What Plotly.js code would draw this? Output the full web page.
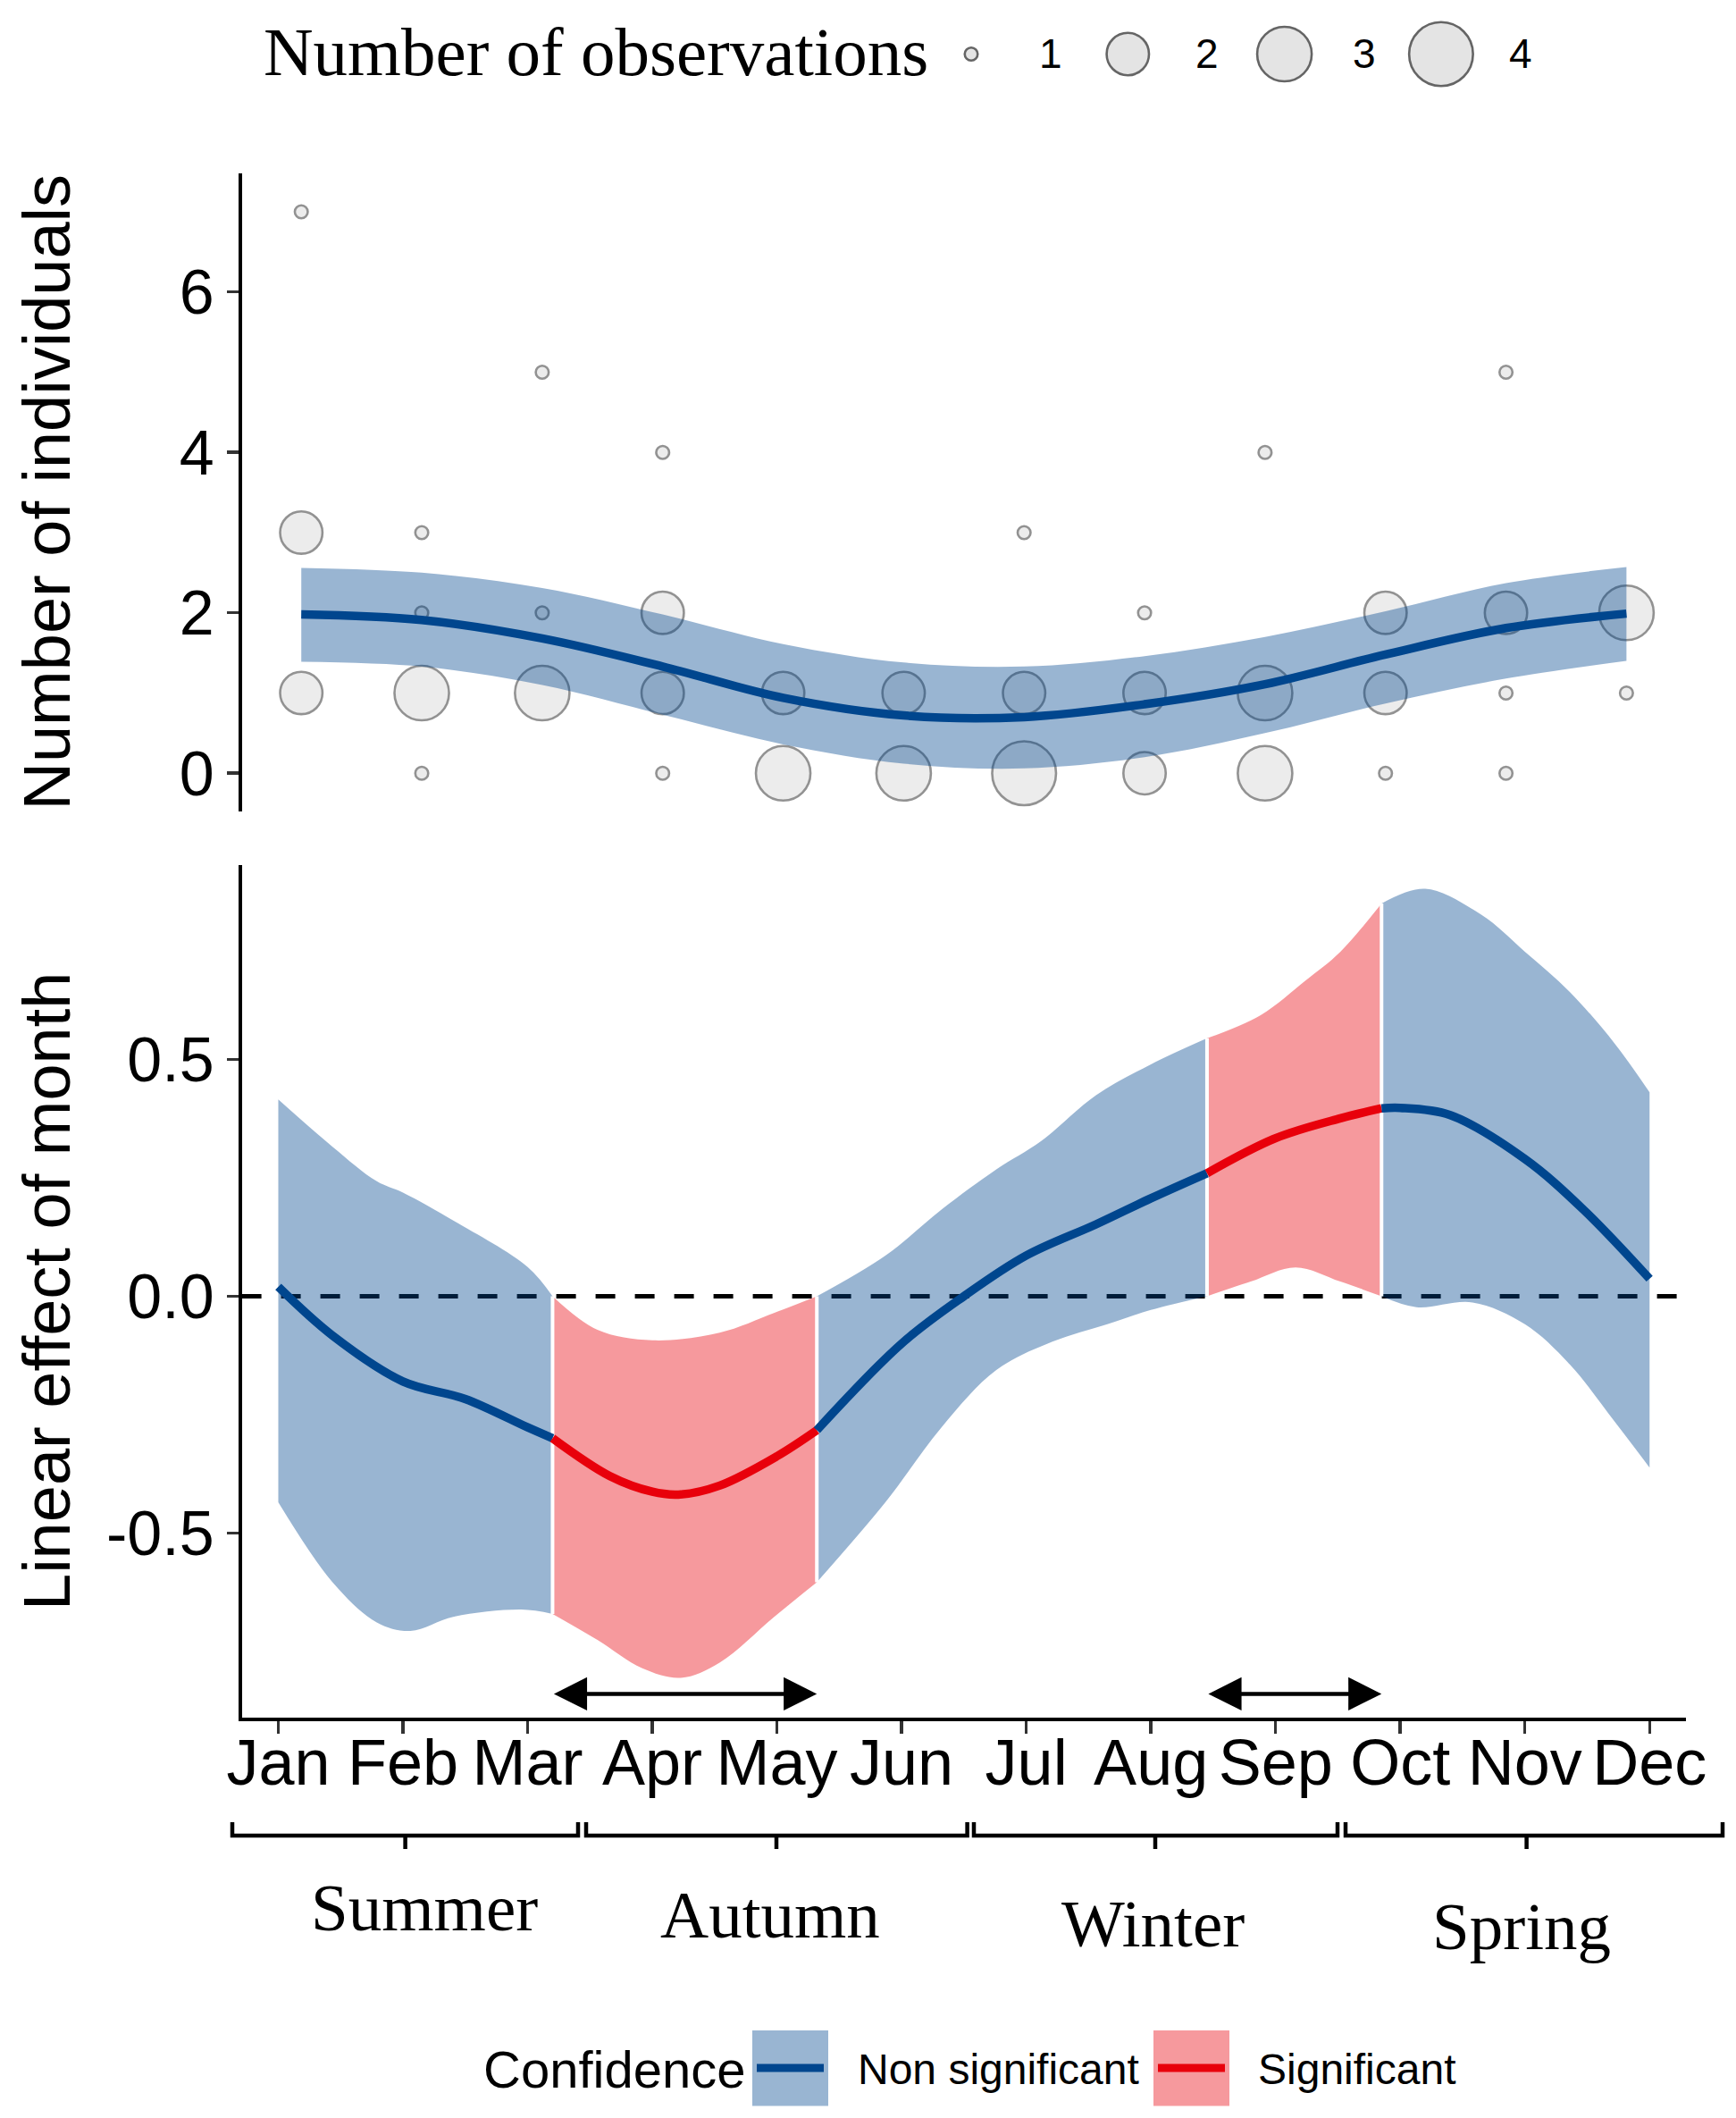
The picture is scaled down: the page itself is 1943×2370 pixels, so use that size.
<!DOCTYPE html>
<html><head><meta charset="utf-8">
<script src="https://cdn.plot.ly/plotly-3.0.1.min.js"></script>
<style>html,body{margin:0;padding:0;background:#fff}#chart{width:1943px;height:2370px}</style>
</head><body><div id="chart"></div>
<script>
// ---------------- DATA ----------------
const months = ['Jan','Feb','Mar','Apr','May','Jun','Jul','Aug','Sep','Oct','Nov','Dec'];
const monthNum = [1,2,3,4,5,6,7,8,9,10,11,12];

// Top panel: observed counts (month, number of individuals, number of observations)
const obsMonth = [1,1,1, 2,2,2,2, 3,3,3, 4,4,4,4, 5,5, 6,6, 7,7,7, 8,8,8, 9,9,9, 10,10,10, 11,11,11,11, 12,12];
const obsCount = [7,3,1, 3,2,1,0, 5,2,1, 4,2,1,0, 1,0, 1,0, 3,1,0, 2,1,0, 4,1,0, 2,1,0, 5,2,1,0, 2,1];
const obsN     = [1,2,2, 1,1,3,1, 1,1,3, 1,2,2,1, 2,3, 2,3, 1,2,4, 1,2,2, 1,3,3, 2,2,1, 1,2,1,1, 3,1];

// Top panel: fitted smooth and confidence band (per month)
const fitTop   = [1.98,1.91,1.68,1.33,0.94,0.72,0.70,0.86,1.11,1.48,1.81,1.99];
const upperTop = [2.56,2.50,2.31,1.98,1.61,1.38,1.33,1.46,1.70,2.02,2.37,2.57];
const lowerTop = [1.39,1.33,1.10,0.73,0.36,0.12,0.06,0.20,0.50,0.87,1.18,1.40];

// Bottom panel: linear effect of month
const effX = [1,1.435,2,2.5,3,3.2,3.66,4,4.21,4.54,5,5.32,6,6.5,7,7.56,8,8.45,9,9.52,9.85,10,10.4,11,11.47,12];
const effY = [0.02,-0.083,-0.18,-0.217,-0.277,-0.30,-0.38,-0.413,-0.419,-0.40,-0.338,-0.283,-0.10,0.0,0.086,0.152,0.207,0.26,0.334,0.376,0.397,0.398,0.383,0.29,0.183,0.037];
const upX = [1,1.435,1.79,2.0,2.41,3.0,3.2,3.56,4.0,4.54,4.98,5.32,5.87,6.32,6.76,7.12,7.56,8.0,8.45,8.88,9.24,9.52,9.85,10.2,10.65,11.0,11.36,11.72,12];
const upY = [0.416,0.316,0.243,0.219,0.159,0.062,0.0,-0.071,-0.093,-0.077,-0.035,0.0,0.086,0.183,0.268,0.328,0.425,0.49,0.545,0.594,0.667,0.728,0.83,0.861,0.806,0.728,0.643,0.534,0.431];
const loX = [1,1.435,1.79,2.06,2.41,2.95,3.2,3.56,3.92,4.23,4.54,4.98,5.32,5.87,6.32,6.76,7.21,7.65,8.0,8.45,8.8,9.16,9.52,9.85,10.13,10.58,11.0,11.36,11.72,12];
const loY = [-0.435,-0.604,-0.689,-0.707,-0.677,-0.662,-0.671,-0.726,-0.786,-0.806,-0.774,-0.677,-0.604,-0.435,-0.277,-0.156,-0.096,-0.059,-0.029,0.0,0.031,0.061,0.031,0.0,-0.023,-0.013,-0.059,-0.144,-0.265,-0.362];

// Significant intervals (month units)
const sigIntervals = [[3.2,5.32],[8.45,9.85]];

const seasons = ['Summer','Autumn','Winter','Spring'];
const obsLegendLevels = [1,2,3,4];
const topTicks = [0,2,4,6];
const bottomTicks = [-0.5,0,0.5];

// ---------------- STYLE / HELPERS ----------------
const W = 1943, H = 2370;
const BLUE = '#00468E', BLUE_FILL = 'rgba(0,70,142,0.4)';
const RED = '#E8000B', RED_FILL = 'rgba(232,0,11,0.4)';
const SANS = 'Liberation Sans, Arial, sans-serif';
const SERIF = 'Liberation Serif, Times New Roman, serif';
const nMin = Math.min(...obsN), nMax = Math.max(...obsN);
function sizeFor(n){ return 14.5 + 57*Math.sqrt((n-nMin)/(nMax-nMin)); }
function pick(xs, ys, a, b){
  const px=[], py=[];
  xs.forEach((x,i)=>{ if(x>=a-1e-9 && x<=b+1e-9){ px.push(x); py.push(ys[i]); } });
  return {x:px, y:py};
}
function valAt(xs, ys, b){ return ys[xs.findIndex(x=>Math.abs(x-b)<1e-9)]; }
const px2x = p => p/W, py2y = p => 1 - p/H;

const traces = [];
// top points
traces.push({type:'scatter', mode:'markers', x:obsMonth, y:obsCount, xaxis:'x', yaxis:'y',
  marker:{size:obsN.map(sizeFor), color:'#E4E4E4', line:{color:'#656565', width:2.6}}, hoverinfo:'skip'});
// top band
traces.push({type:'scatter', mode:'lines', x:monthNum, y:lowerTop, xaxis:'x', yaxis:'y',
  line:{width:0, shape:'spline'}, hoverinfo:'skip'});
traces.push({type:'scatter', mode:'lines', x:monthNum, y:upperTop, xaxis:'x', yaxis:'y',
  line:{width:0, shape:'spline'}, fill:'tonexty', fillcolor:BLUE_FILL, hoverinfo:'skip'});
traces.push({type:'scatter', mode:'lines', x:monthNum, y:fitTop, xaxis:'x', yaxis:'y',
  line:{width:9.5, color:BLUE, shape:'spline'}, hoverinfo:'skip'});

// bottom segments
const edges = [effX[0], ...sigIntervals.flat(), effX[effX.length-1]];
const segs = [];
for(let k=0;k<edges.length-1;k++) segs.push({a:edges[k], b:edges[k+1], sig:(k%2===1)});
segs.forEach(s=>{
  const lo = pick(loX, loY, s.a, s.b), up = pick(upX, upY, s.a, s.b);
  traces.push({type:'scatter', mode:'lines', x:lo.x, y:lo.y, xaxis:'x2', yaxis:'y2',
    line:{width:0, shape:'spline'}, hoverinfo:'skip'});
  traces.push({type:'scatter', mode:'lines', x:up.x, y:up.y, xaxis:'x2', yaxis:'y2',
    line:{width:0, shape:'spline'}, fill:'tonexty', fillcolor: s.sig?RED_FILL:BLUE_FILL, hoverinfo:'skip'});
});
// white separators at interval boundaries
sigIntervals.flat().forEach(b=>{
  traces.push({type:'scatter', mode:'lines', x:[b,b], y:[valAt(loX,loY,b), valAt(upX,upY,b)],
    xaxis:'x2', yaxis:'y2', line:{width:4, color:'white'}, hoverinfo:'skip'});
});
// effect line segments
segs.forEach(s=>{
  const e = pick(effX, effY, s.a, s.b);
  traces.push({type:'scatter', mode:'lines', x:e.x, y:e.y, xaxis:'x2', yaxis:'y2',
    line:{width:9.5, color: s.sig?RED:BLUE, shape:'spline'}, hoverinfo:'skip'});
});

// ---------------- LAYOUT ----------------
const L = 270.6/W, R = 1887/W;
const axisCommon = {showgrid:false, zeroline:false, linecolor:'black', linewidth:4,
  tickcolor:'#333333', tickwidth:3.5, tickfont:{family:SANS, size:70, color:'black'}};

const shapes = [];
const annotations = [];

// dashed zero line (under ribbons)
shapes.push({type:'line', xref:'x2 domain', yref:'y2', x0:0, x1:1, y0:0, y1:0, layer:'below',
  line:{color:'black', width:5, dash:'22px,22px'}});

// significant interval arrows
sigIntervals.forEach(([a,b])=>{
  annotations.push({xref:'x2', yref:'y2', axref:'x2', ayref:'y2', x:b, y:-0.84, ax:a, ay:-0.84,
    text:'', showarrow:true, arrowside:'end+start', arrowhead:2, startarrowhead:2,
    arrowsize:1.65, startarrowsize:1.65, arrowwidth:4.5, arrowcolor:'black', standoff:0, startstandoff:0});
});

// y-axis titles
annotations.push({xref:'paper', yref:'paper', x:px2x(52), y:py2y(550.5), xanchor:'center', yanchor:'middle',
  text:'Number of individuals', textangle:-90, showarrow:false, font:{family:SANS, size:74, color:'black'}});
annotations.push({xref:'paper', yref:'paper', x:px2x(52), y:py2y(1445), xanchor:'center', yanchor:'middle',
  text:'Linear effect of month', textangle:-90, showarrow:false, font:{family:SANS, size:74, color:'black'}});

// top size legend
annotations.push({xref:'paper', yref:'paper', x:px2x(292.5), y:py2y(58), xanchor:'left', yanchor:'middle',
  text:'Number of observations', showarrow:false, font:{family:SERIF, size:77, color:'black'}});
obsLegendLevels.forEach((n,i)=>{
  const cx = 1087 + i*175.3, cy = 60.5, d = sizeFor(n);
  shapes.push({type:'circle', xref:'paper', yref:'paper', xsizemode:'pixel', ysizemode:'pixel',
    xanchor:px2x(cx), yanchor:py2y(cy), x0:-d/2, x1:d/2, y0:-d/2, y1:d/2,
    fillcolor:'#E4E4E4', line:{color:'#656565', width:2.6}});
  annotations.push({xref:'paper', yref:'paper', x:px2x(cx+89), y:py2y(cy), xanchor:'center', yanchor:'middle',
    text:String(n), showarrow:false, font:{family:SANS, size:46, color:'black'}});
});

// season brackets
const brackets = [[260,647,453.6],[656,1082.6,869],[1090,1497,1293],[1506,1928,1708.6]];
const seasonLabelPos = [[474.8,2134],[862,2142],[1290,2152],[1702.5,2155]];
brackets.forEach(([x0,x1,xm],i)=>{
  const yb = 2054, yu = 2039, yd = 2069;
  shapes.push({type:'path', xref:'paper', yref:'paper',
    path:`M${px2x(x0)},${py2y(yu)} L${px2x(x0)},${py2y(yb)} L${px2x(x1)},${py2y(yb)} L${px2x(x1)},${py2y(yu)}`,
    line:{color:'black', width:4.5}});
  shapes.push({type:'line', xref:'paper', yref:'paper', x0:px2x(xm), x1:px2x(xm), y0:py2y(yb), y1:py2y(yd),
    line:{color:'black', width:4.5}});
  annotations.push({xref:'paper', yref:'paper', x:px2x(seasonLabelPos[i][0]), y:py2y(seasonLabelPos[i][1]),
    xanchor:'center', yanchor:'middle', text:seasons[i], showarrow:false,
    font:{family:SERIF, size:75, color:'black'}});
});

// bottom confidence legend
annotations.push({xref:'paper', yref:'paper', x:px2x(539), y:py2y(2315), xanchor:'left', yanchor:'middle',
  text:'Confidence', showarrow:false, font:{family:SANS, size:58, color:'black'}});
[[842,BLUE_FILL,BLUE,'Non significant',958],[1291,RED_FILL,RED,'Significant',1406]].forEach(([bx,fc,lc,lab,tx])=>{
  shapes.push({type:'rect', xref:'paper', yref:'paper', x0:px2x(bx), x1:px2x(bx+85), y0:py2y(2356.5), y1:py2y(2272),
    fillcolor:fc, line:{width:0}});
  shapes.push({type:'line', xref:'paper', yref:'paper', x0:px2x(bx+5), x1:px2x(bx+80), y0:py2y(2314), y1:py2y(2314),
    line:{color:lc, width:9}});
  annotations.push({xref:'paper', yref:'paper', x:px2x(tx), y:py2y(2315), xanchor:'left', yanchor:'middle',
    text:lab, showarrow:false, font:{family:SANS, size:48, color:'black'}});
});

const layout = {
  width:W, height:H, margin:{l:0,r:0,t:0,b:0}, paper_bgcolor:'white', plot_bgcolor:'rgba(0,0,0,0)',
  showlegend:false, font:{family:SANS, color:'black'},
  xaxis: Object.assign({}, axisCommon, {domain:[L,R], range:[0.506,12.494], showline:false, showticklabels:false, ticks:'', anchor:'y', fixedrange:true}),
  yaxis: Object.assign({}, axisCommon, {domain:[py2y(907.5), py2y(193.6)], range:[-0.471,7.483], tickvals:topTicks,
    ticktext:topTicks.map(String), showline:true, ticks:'outside', ticklen:13, anchor:'x'}),
  xaxis2: Object.assign({}, axisCommon, {domain:[L,R], range:[0.707,12.292], tickvals:monthNum, ticktext:months,
    showline:true, ticks:'outside', ticklen:14, ticklabelstandoff:-30, tickfont:{family:SANS, size:72, color:'black'}, anchor:'y2'}),
  yaxis2: Object.assign({}, axisCommon, {domain:[py2y(1922.4), py2y(968)], range:[-0.891,0.911], tickvals:bottomTicks,
    ticktext:bottomTicks.map(v=>v.toFixed(1)), showline:true, ticks:'outside', ticklen:13, anchor:'x2'}),
  shapes:shapes, annotations:annotations
};

Plotly.newPlot('chart', traces, layout, {staticPlot:true, displayModeBar:false});
</script>
</body></html>
